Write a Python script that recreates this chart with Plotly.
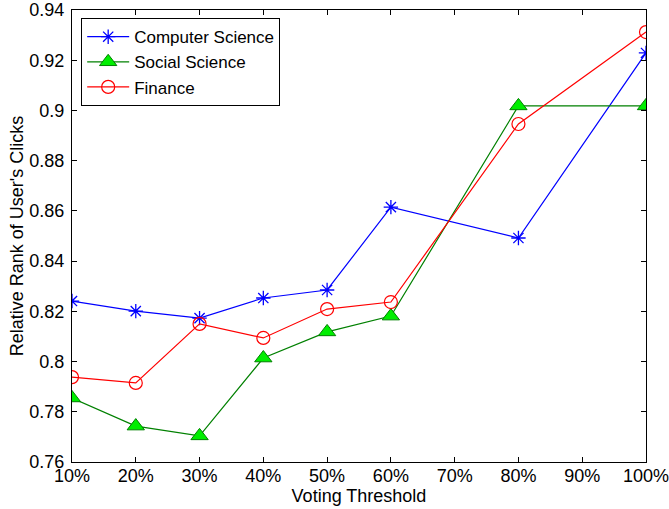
import plotly.graph_objects as go

x_labels = ["10%", "20%", "30%", "40%", "50%", "60%", "70%", "80%", "90%", "100%"]
x_vals = [10, 20, 30, 40, 50, 60, 80, 100]
cs = [0.8241, 0.8201, 0.8173, 0.8253, 0.8285, 0.8615, 0.8492, 0.9229]
ss = [0.7855, 0.7743, 0.7704, 0.8014, 0.8118, 0.8181, 0.9018, 0.9018]
fin = [0.7938, 0.7915, 0.8150, 0.8094, 0.8209, 0.8237, 0.8946, 0.9312]
y_ticks = [0.76, 0.78, 0.80, 0.82, 0.84, 0.86, 0.88, 0.90, 0.92, 0.94]
y_labels = ["0.76", "0.78", "0.8", "0.82", "0.84", "0.86", "0.88", "0.9", "0.92", "0.94"]

FONT = "Liberation Sans, Arial, sans-serif"
FS = 18

fig = go.Figure()
fig.add_trace(go.Scatter(
    x=x_vals, y=cs, name="Computer Science", mode="lines+markers",
    line=dict(color="#0000ff", width=1.2),
    marker=dict(symbol="asterisk-open", size=12, line=dict(color="#0000ff", width=1.3))))
fig.add_trace(go.Scatter(
    x=x_vals, y=ss, name="Social Science", mode="lines+markers",
    line=dict(color="#008000", width=1.2),
    marker=dict(symbol="triangle-up", size=15, color="#00ee00", line=dict(color="#008000", width=1))))
fig.add_trace(go.Scatter(
    x=x_vals, y=fin, name="Finance", mode="lines+markers",
    line=dict(color="#ff0000", width=1.2),
    marker=dict(symbol="circle-open", size=13, line=dict(color="#ff0000", width=1.2))))

axis_common = dict(
    showline=True, linecolor="black", linewidth=1, mirror="ticks",
    ticks="inside", ticklen=5, tickcolor="black", showgrid=False, zeroline=False,
    automargin=False, ticklabeloverflow="allow",
    tickfont=dict(family=FONT, size=FS, color="black"),
)

fig.update_layout(
    template="none",
    width=669, height=509,
    margin=dict(l=72, r=23, t=10, b=47),
    paper_bgcolor="white", plot_bgcolor="white",
    font=dict(family=FONT, size=FS, color="black"),
    showlegend=True,
    legend=dict(
        x=0.016, y=0.982, xanchor="left", yanchor="top",
        bordercolor="black", borderwidth=1, bgcolor="white",
        font=dict(family=FONT, size=17, color="black"),
        tracegroupgap=0, itemwidth=42,
    ),
    xaxis=dict(
        range=[10, 100], tickvals=[10, 20, 30, 40, 50, 60, 70, 80, 90, 100],
        ticktext=x_labels, ticklabelstandoff=-3,
        title=dict(text="Voting Threshold", font=dict(family=FONT, size=FS), standoff=1),
        **axis_common),
    yaxis=dict(
        range=[0.76, 0.94], tickvals=y_ticks, ticktext=y_labels, ticklabelstandoff=3,
        title=dict(text="Relative Rank of User's Clicks", font=dict(family=FONT, size=FS), standoff=1),
        **axis_common),
)

fig.write_html("out.html", config={"displayModeBar": False},
               post_script="document.body.style.margin='0';document.body.style.overflow='hidden';")
